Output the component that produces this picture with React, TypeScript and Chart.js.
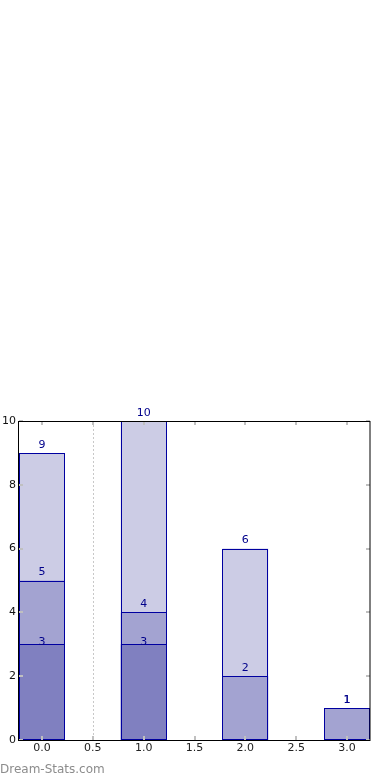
import React, { useEffect, useRef } from "react";
import { Chart, registerables } from "chart.js";

Chart.register(...registerables);

const positions = [0, 1, 2, 3];
const topLayer = [9, 10, 6, 1];
const midLayer = [5, 4, 2, 1];
const lowLayer = [3, 3, 0, 0];
const xTicks = [0, 0.5, 1, 1.5, 2, 2.5, 3];
const yTicks = [0, 2, 4, 6, 8, 10];
const dividerAt = [0.5];
const watermark = "Dream-Stats.com";

const FONT = "'DejaVu Sans', sans-serif";

const decorPlugin = {
  id: "decor",
  beforeDatasetsDraw(chart: any) {
    const { ctx, chartArea } = chart;
    const xs = chart.scales.x;
    ctx.save();
    ctx.strokeStyle = "#c8c8c8";
    ctx.lineWidth = 1;
    ctx.setLineDash([2, 2]);
    dividerAt.forEach((v) => {
      const px = Math.round(xs.getPixelForValue(v)) + 0.5;
      ctx.beginPath();
      ctx.moveTo(px, chartArea.top);
      ctx.lineTo(px, chartArea.bottom);
      ctx.stroke();
    });
    ctx.restore();
  },
  afterDatasetsDraw(chart: any) {
    const { ctx } = chart;
    ctx.save();
    // crisp outlines
    ctx.strokeStyle = "#0000a0";
    ctx.lineWidth = 1;
    chart.data.datasets.forEach((ds: any, di: number) => {
      const meta = chart.getDatasetMeta(di);
      meta.data.forEach((el: any, i: number) => {
        const v = ds.data[i].y;
        if (!v) return;
        const x0 = Math.round(el.x - el.width / 2) + 0.5;
        const x1 = Math.round(el.x + el.width / 2) - 0.5;
        const y0 = Math.round(el.y) + 0.5;
        const y1 = Math.round(el.base) - 0.5;
        ctx.strokeRect(x0, y0, x1 - x0, y1 - y0);
      });
    });
    ctx.font = `11px ${FONT}`;
    ctx.fillStyle = "#00008b";
    ctx.textAlign = "center";
    ctx.textBaseline = "middle";
    chart.data.datasets.forEach((ds: any, di: number) => {
      const meta = chart.getDatasetMeta(di);
      const off = ds.labelOffset ?? 8;
      meta.data.forEach((el: any, i: number) => {
        const v = ds.data[i].y;
        if (!v) return;
        ctx.fillText(String(v), el.x, el.y - off);
      });
    });
    ctx.restore();
  },
  afterDraw(chart: any) {
    const { ctx, chartArea } = chart;
    const { left, right, top, bottom } = chartArea;
    const xs = chart.scales.x;
    const ys = chart.scales.y;
    ctx.save();
    ctx.strokeStyle = "#c0c0c0";
    ctx.lineWidth = 2;
    xTicks.forEach((v) => {
      const px = Math.round(xs.getPixelForValue(v));
      ctx.beginPath();
      ctx.moveTo(px, bottom);
      ctx.lineTo(px, bottom - 4);
      ctx.moveTo(px, top);
      ctx.lineTo(px, top + 4);
      ctx.stroke();
    });
    yTicks.forEach((v) => {
      const py = Math.round(ys.getPixelForValue(v));
      ctx.beginPath();
      ctx.moveTo(left, py);
      ctx.lineTo(left + 4, py);
      ctx.moveTo(right, py);
      ctx.lineTo(right - 4, py);
      ctx.stroke();
    });
    ctx.strokeStyle = "#000";
    ctx.lineWidth = 1;
    ctx.strokeRect(Math.round(left) - 0.5, Math.round(top) + 0.5, Math.round(right - left) + 0.5, Math.round(bottom - top));
    ctx.font = `12px ${FONT}`;
    ctx.fillStyle = "#8c8c8c";
    ctx.textAlign = "left";
    ctx.textBaseline = "middle";
    ctx.fillText(watermark, 0, 770);
    ctx.restore();
  },
};

export default function App() {
  const ref = useRef<HTMLCanvasElement>(null);
  useEffect(() => {
    if (!ref.current) return;
    const mk = (vals: number[]) => positions.map((x, i) => ({ x, y: vals[i] === 0 ? null : vals[i] }));
    const common = {
      borderWidth: 0,
      categoryPercentage: 1,
      barPercentage: 0.9,
    };
    const chart = new Chart(ref.current, {
      type: "bar",
      data: {
        datasets: [
          { ...common, data: mk(lowLayer), backgroundColor: "#8080c0", labelOffset: 2 } as any,
          { ...common, data: mk(midLayer), backgroundColor: "#a3a3d1", labelOffset: 8 } as any,
          { ...common, data: mk(topLayer), backgroundColor: "#ccccE5", labelOffset: 8 } as any,
        ],
      },
      options: {
        animation: false,
        responsive: false,
        grouped: false,
        layout: { padding: { top: 421, right: 20, left: 0, bottom: 0 } },
        plugins: { legend: { display: false }, tooltip: { enabled: false } },
        scales: {
          x: {
            type: "linear",
            min: -0.225,
            max: 3.225,
            offset: false,
            grid: { display: false, drawTicks: false },
            border: { display: false },
            afterBuildTicks: (s: any) => {
              s.ticks = xTicks.map((v) => ({ value: v }));
            },
            afterFit: (s: any) => {
              s.height = 40;
            },
            ticks: {
              padding: 2,
              color: "#222",
              font: { family: FONT, size: 11 },
              callback: (v: any) => Number(v).toFixed(1),
            },
          },
          y: {
            min: 0,
            max: 10,
            grid: { display: false, drawTicks: false },
            border: { display: false },
            afterBuildTicks: (s: any) => {
              s.ticks = yTicks.map((v) => ({ value: v }));
            },
            afterFit: (s: any) => {
              s.width = 19;
            },
            ticks: {
              padding: 3,
              color: "#111",
              font: { family: FONT, size: 11 },
            },
          },
        },
      } as any,
      plugins: [decorPlugin],
    });
    return () => chart.destroy();
  }, []);
  return (
    <div style={{ position: "absolute", left: 0, top: 0, width: 390, height: 780, background: "#fff" }}>
      <canvas ref={ref} width={390} height={780} style={{ width: 390, height: 780, display: "block" }} />
    </div>
  );
}
